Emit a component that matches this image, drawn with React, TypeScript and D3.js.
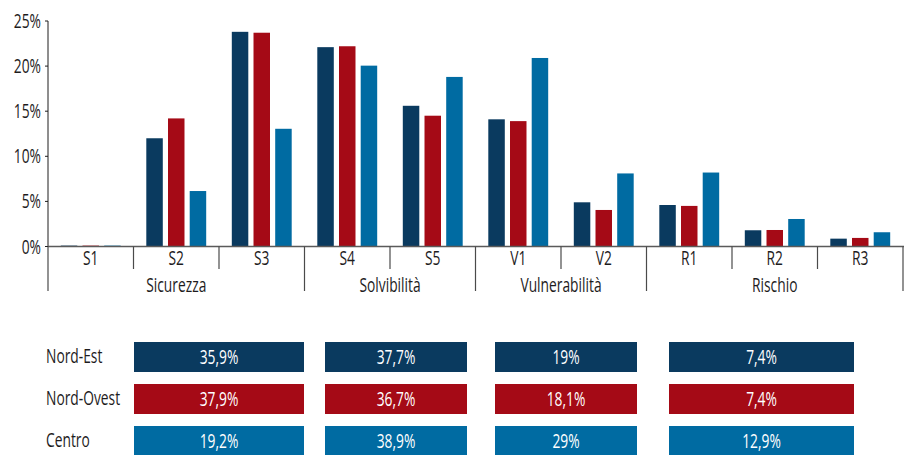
import React from "react";
import * as d3 from "d3";

const categories = ["S1", "S2", "S3", "S4", "S5", "V1", "V2", "R1", "R2", "R3"];
const seriesNames = ["Nord-Est", "Nord-Ovest", "Centro"];
const nordEst = [0.1, 12.0, 23.8, 22.1, 15.6, 14.1, 4.9, 4.6, 1.8, 0.87];
const nordOvest = [0.1, 14.2, 23.7, 22.2, 14.5, 13.9, 4.05, 4.5, 1.83, 0.95];
const centro = [0.1, 6.15, 13.05, 20.05, 18.8, 20.9, 8.1, 8.2, 3.05, 1.58];
const groups = [
  { name: "Sicurezza", from: "S1", to: "S3" },
  { name: "Solvibilità", from: "S4", to: "S5" },
  { name: "Vulnerabilità", from: "V1", to: "V2" },
  { name: "Rischio", from: "R1", to: "R3" },
];
const yTicks = [0, 5, 10, 15, 20, 25];
const tableNordEst = [35.9, 37.7, 19, 7.4];
const tableNordOvest = [37.9, 36.7, 18.1, 7.4];
const tableCentro = [19.2, 38.9, 29, 12.9];

const colors = ["#0A3A5F", "#A50A16", "#006BA2"];
const font = "'Open Sans', 'Noto Sans', sans-serif";
const textColor = "#1E1C1D";
const FS = 20;
const SX = 0.69;

const locale = d3.formatLocale({ decimal: ",", thousands: ".", grouping: [3], currency: ["", "€"] });
const fmt = locale.format(".1~f");

function T(props: {
  x: number;
  y: number;
  anchor?: "start" | "middle" | "end";
  fill?: string;
  children: React.ReactNode;
}) {
  return (
    <text
      transform={`translate(${props.x},${props.y}) scale(${SX},1)`}
      dy="0.35em"
      textAnchor={props.anchor || "start"}
      fontSize={FS}
      fill={props.fill || textColor}
    >
      {props.children}
    </text>
  );
}

export default function App() {
  const series = [nordEst, nordOvest, centro];
  const x = d3.scaleBand<string>().domain(categories).range([48, 903]).padding(0);
  const xi = d3
    .scaleBand<string>()
    .domain(seriesNames)
    .range([0, x.bandwidth()])
    .paddingInner(0.24)
    .paddingOuter(0.59);
  const y = d3.scaleLinear().domain([0, 25]).range([246.5, 21]);

  const groupStarts = groups.map((g) => x(g.from) as number);
  const groupEnds = groups.map((g) => (x(g.to) as number) + x.bandwidth());
  const majorBounds = Array.from(new Set([...groupStarts, ...groupEnds]));
  const minorBounds = categories
    .map((c) => x(c) as number)
    .concat([x.range()[1]])
    .filter((b) => !majorBounds.some((m) => Math.abs(m - b) < 0.5));

  const tableRows = [tableNordEst, tableNordOvest, tableCentro];
  const colX = d3.scaleOrdinal<number, [number, number]>().domain([0, 1, 2, 3]).range([
    [134, 304],
    [325, 467],
    [495, 637],
    [669, 854],
  ]);
  const rowY = [342, 384, 426];
  const rowH = 30;

  return (
    <svg
      width={909}
      height={455}
      style={{ position: "absolute", left: 0, top: 0, background: "#fff" }}
      fontFamily={font}
    >
      {/* bars */}
      {series.map((vals, si) =>
        categories.map((c, ci) => {
          const x0 = (x(c) as number) + (xi(seriesNames[si]) as number);
          const y0 = y(vals[ci]);
          return (
            <rect
              key={`${si}-${c}`}
              x={x0}
              y={y0}
              width={xi.bandwidth()}
              height={Math.max(y(0) - y0, 1)}
              fill={colors[si]}
            />
          );
        })
      )}

      {/* y axis */}
      <line x1={48} x2={48} y1={y(25)} y2={y(0)} stroke={textColor} strokeWidth={1} />
      {yTicks.map((t) => (
        <g key={t}>
          <line x1={45} x2={48} y1={y(t)} y2={y(t)} stroke={textColor} strokeWidth={1} />
          <T x={41} y={y(t)} anchor="end">
            {t}%
          </T>
        </g>
      ))}

      {/* x axis */}
      <line x1={48} x2={904} y1={y(0)} y2={y(0)} stroke="#5a5a5a" strokeWidth={1.6} />
      {minorBounds.map((b) => (
        <line key={`mi${b}`} x1={b} x2={b} y1={y(0)} y2={269} stroke="#4a4a4a" strokeWidth={1.2} />
      ))}
      {majorBounds.map((b) => (
        <line key={`ma${b}`} x1={b} x2={b} y1={y(0)} y2={291} stroke="#4a4a4a" strokeWidth={1.2} />
      ))}
      {categories.map((c) => (
        <T key={`l${c}`} x={(x(c) as number) + x.bandwidth() / 2} y={258} anchor="middle">
          {c}
        </T>
      ))}
      {groups.map((g, i) => (
        <T key={g.name} x={(groupStarts[i] + groupEnds[i]) / 2} y={285} anchor="middle">
          {g.name}
        </T>
      ))}

      {/* table */}
      {tableRows.map((row, ri) => (
        <g key={`r${ri}`}>
          <T x={46} y={rowY[ri] + rowH / 2 - 1.5}>
            {seriesNames[ri]}
          </T>
          {row.map((v, ci) => {
            const [a, b] = colX(ci);
            return (
              <g key={`c${ci}`}>
                <rect x={a} y={rowY[ri]} width={b - a} height={rowH} fill={colors[ri]} />
                <T x={(a + b) / 2} y={rowY[ri] + rowH / 2} anchor="middle" fill="#ffffff">
                  {fmt(v)}%
                </T>
              </g>
            );
          })}
        </g>
      ))}
    </svg>
  );
}
